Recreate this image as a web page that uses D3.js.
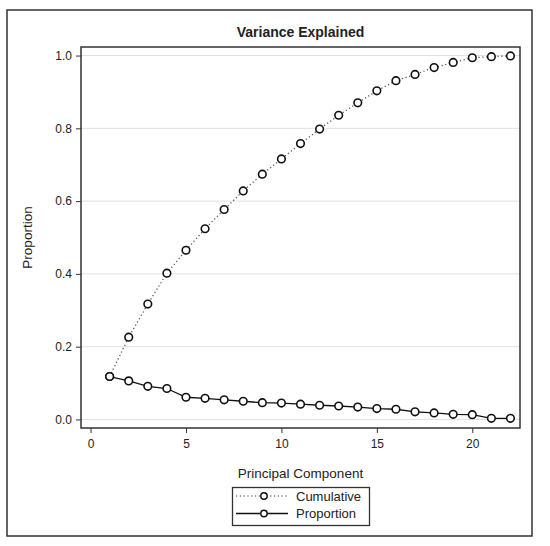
<!DOCTYPE html>
<html>
<head>
<meta charset="utf-8">
<script src="https://cdn.jsdelivr.net/npm/d3@7"></script>
<style>
  body { margin: 0; background: #fff; }
  svg text { font-family: "Liberation Sans", Arial, sans-serif; fill: #222; }
</style>
</head>
<body>
<div id="chart"></div>
<script>
// values
const components = [1,2,3,4,5,6,7,8,9,10,11,12,13,14,15,16,17,18,19,20,21,22];
const proportion = [0.118,0.106,0.091,0.085,0.061,0.058,0.054,0.050,0.046,0.045,0.042,0.039,0.037,0.034,0.030,0.028,0.021,0.018,0.014,0.013,0.003,0.003];
const cumulative = [0.118,0.226,0.317,0.402,0.465,0.524,0.577,0.628,0.674,0.716,0.758,0.798,0.836,0.870,0.903,0.931,0.948,0.967,0.981,0.994,0.997,0.999];
const xTicks = [0,5,10,15,20];
const yTicks = [0,0.2,0.4,0.6,0.8,1.0];
const seriesNames = ['Cumulative','Proportion'];

const width = 550;
const height = 546;
const plot = { left: 81, right: 520, top: 47, bottom: 428 };

const svg = d3.select('#chart')
  .append('svg')
  .attr('width', width)
  .attr('height', height);

// outer border
svg.append('rect')
  .attr('x', 7).attr('y', 10)
  .attr('width', 525).attr('height', 526)
  .attr('fill', 'none')
  .attr('stroke', '#333')
  .attr('stroke-width', 1.5);

const xScale = d3.scaleLinear().domain([-0.5, 22.5]).range([plot.left, plot.right]);
const yScale = d3.scaleLinear().domain([-0.0235, 1.0235]).range([plot.bottom, plot.top]);

// gridlines
svg.append('g')
  .selectAll('line')
  .data(yTicks)
  .join('line')
  .attr('x1', plot.left).attr('x2', plot.right)
  .attr('y1', d => yScale(d)).attr('y2', d => yScale(d))
  .attr('stroke', '#e0e0e0')
  .attr('stroke-width', 1);

// axes
const yAxis = svg.append('g')
  .attr('transform', `translate(${plot.left},0)`)
  .call(d3.axisLeft(yScale).tickValues(yTicks).tickFormat(d3.format('.1f')).tickSize(5).tickPadding(4));
const xAxis = svg.append('g')
  .attr('transform', `translate(0,${plot.bottom})`)
  .call(d3.axisBottom(xScale).tickValues(xTicks).tickSize(5).tickPadding(6));

[xAxis, yAxis].forEach(g => {
  g.select('.domain').remove();
  g.selectAll('.tick line').attr('stroke', '#333');
  g.selectAll('.tick text')
    .style('font-family', '"Liberation Sans", Arial, sans-serif')
    .style('font-size', '12px')
    .attr('fill', '#222');
});

// plot frame
svg.append('rect')
  .attr('x', plot.left).attr('y', plot.top)
  .attr('width', plot.right - plot.left).attr('height', plot.bottom - plot.top)
  .attr('fill', 'none')
  .attr('stroke', '#333')
  .attr('stroke-width', 1.5);

// lines
const line = d3.line()
  .x((d, i) => xScale(components[i]))
  .y(d => yScale(d));

svg.append('path')
  .datum(cumulative)
  .attr('d', line)
  .attr('fill', 'none')
  .attr('stroke', '#555')
  .attr('stroke-width', 1.3)
  .attr('stroke-dasharray', '1.2,2.6');

svg.append('path')
  .datum(proportion)
  .attr('d', line)
  .attr('fill', 'none')
  .attr('stroke', '#111')
  .attr('stroke-width', 1.3);

// markers
[cumulative, proportion].forEach(series => {
  svg.append('g')
    .selectAll('circle')
    .data(series)
    .join('circle')
    .attr('cx', (d, i) => xScale(components[i]))
    .attr('cy', d => yScale(d))
    .attr('r', 3.8)
    .attr('fill', '#fff')
    .attr('stroke', '#111')
    .attr('stroke-width', 1.6);
});

// title and labels
svg.append('text')
  .attr('x', (plot.left + plot.right) / 2)
  .attr('y', 37)
  .attr('text-anchor', 'middle')
  .style('font-size', '14px')
  .style('font-weight', 'bold')
  .attr('fill', '#111')
  .text('Variance Explained');

svg.append('text')
  .attr('x', (plot.left + plot.right) / 2)
  .attr('y', 478)
  .attr('text-anchor', 'middle')
  .style('font-size', '13.5px')
  .text('Principal Component');

svg.append('text')
  .attr('transform', `translate(32,${(plot.top + plot.bottom) / 2}) rotate(-90)`)
  .attr('text-anchor', 'middle')
  .style('font-size', '13.5px')
  .text('Proportion');

// legend
const legend = svg.append('g');
legend.append('rect')
  .attr('x', 232.5).attr('y', 487.5)
  .attr('width', 137).attr('height', 38)
  .attr('fill', 'none')
  .attr('stroke', '#333')
  .attr('stroke-width', 1.3);

const legendRows = legend.selectAll('g.row')
  .data(seriesNames)
  .join('g')
  .attr('class', 'row')
  .attr('transform', (d, i) => `translate(0,${496 + i * 17.5})`);

legendRows.append('line')
  .attr('x1', 236).attr('x2', 288)
  .attr('y1', 0).attr('y2', 0)
  .attr('stroke', (d, i) => i === 0 ? '#777' : '#111')
  .attr('stroke-width', 1.3)
  .attr('stroke-dasharray', (d, i) => i === 0 ? '1.2,2.6' : null);

legendRows.append('circle')
  .attr('cx', 264).attr('cy', 0)
  .attr('r', 3.2)
  .attr('fill', '#fff')
  .attr('stroke', '#111')
  .attr('stroke-width', 1.4);

legendRows.append('text')
  .attr('x', 296)
  .attr('y', 0)
  .attr('dy', '0.35em')
  .style('font-size', '13px')
  .text(d => d);
</script>
</body>
</html>
